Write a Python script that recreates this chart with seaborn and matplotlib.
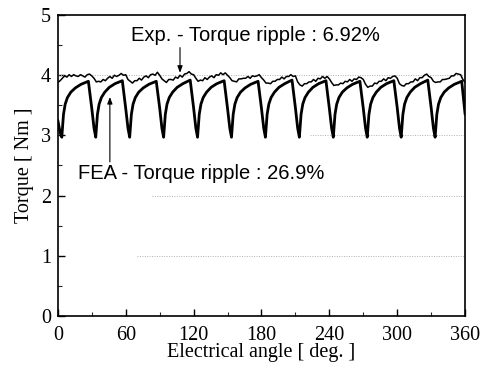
import numpy as np
import matplotlib
matplotlib.use("Agg")
import matplotlib.pyplot as plt
from matplotlib.ticker import MultipleLocator
import seaborn as sns

# ---- FEA torque ----
fea_angle = [
    0, 2, 3.5, 5, 6.5, 8.5, 11.5, 15.5, 20.5, 27,
    30, 32, 33.5, 35, 36.5, 38.5, 41.5, 45.5, 50.5, 57,
    60, 62, 63.5, 65, 66.5, 68.5, 71.5, 75.5, 80.5, 87,
    90, 92, 93.5, 95, 96.5, 98.5, 101.5, 105.5, 110.5, 117,
    120, 122, 123.5, 125, 126.5, 128.5, 131.5, 135.5, 140.5, 147,
    150, 152, 153.5, 155, 156.5, 158.5, 161.5, 165.5, 170.5, 177,
    180, 182, 183.5, 185, 186.5, 188.5, 191.5, 195.5, 200.5, 207,
    210, 212, 213.5, 215, 216.5, 218.5, 221.5, 225.5, 230.5, 237,
    240, 242, 243.5, 245, 246.5, 248.5, 251.5, 255.5, 260.5, 267,
    270, 272, 273.5, 275, 276.5, 278.5, 281.5, 285.5, 290.5, 297,
    300, 302, 303.5, 305, 306.5, 308.5, 311.5, 315.5, 320.5, 327,
    330, 332, 333.5, 335, 336.5, 338.5, 341.5, 345.5, 350.5, 357,
    360,
]
fea_torque = [
    3.25, 3.05, 2.97, 3.35, 3.52, 3.63, 3.72, 3.79, 3.85, 3.90,
    3.45, 3.12, 2.97, 3.35, 3.52, 3.63, 3.72, 3.80, 3.86, 3.91,
    3.45, 3.12, 2.97, 3.35, 3.52, 3.63, 3.72, 3.79, 3.85, 3.90,
    3.46, 3.12, 2.97, 3.35, 3.52, 3.63, 3.72, 3.80, 3.86, 3.92,
    3.46, 3.12, 2.97, 3.35, 3.52, 3.63, 3.72, 3.80, 3.86, 3.91,
    3.45, 3.12, 2.97, 3.35, 3.52, 3.63, 3.72, 3.79, 3.85, 3.90,
    3.45, 3.12, 2.97, 3.35, 3.52, 3.63, 3.72, 3.80, 3.86, 3.92,
    3.46, 3.12, 2.97, 3.35, 3.52, 3.63, 3.72, 3.80, 3.86, 3.91,
    3.45, 3.12, 2.97, 3.35, 3.52, 3.63, 3.72, 3.79, 3.85, 3.90,
    3.45, 3.12, 2.97, 3.35, 3.52, 3.63, 3.72, 3.80, 3.86, 3.91,
    3.46, 3.12, 2.97, 3.35, 3.52, 3.63, 3.72, 3.80, 3.86, 3.92,
    3.46, 3.12, 2.97, 3.35, 3.52, 3.63, 3.72, 3.79, 3.85, 3.90,
    3.35,
]

# ---- Experimental torque, sampled every 2 deg ----
exp_angle = list(range(0, 361, 2))
exp_torque = [
    3.88, 3.91, 3.95, 3.99, 3.97, 4.01, 3.98, 4.01, 3.99, 3.98, 4.01, 3.99, 3.97, 4.01, 4.02,
    3.99, 3.95, 3.89, 3.90, 3.89, 3.93, 3.91, 3.95, 3.98, 3.95, 4.00, 3.98, 4.00, 4.03, 4.00,
    4.01, 3.93, 3.90, 3.87, 3.91, 3.91, 3.95, 3.92, 3.97, 3.99, 3.96, 4.01, 4.02, 4.00, 4.05,
    4.00, 3.94, 3.91, 3.88, 3.93, 3.93, 3.92, 3.97, 3.95, 4.00, 3.97, 4.02, 4.03, 4.06, 4.02,
    4.01, 3.95, 3.90, 3.92, 3.91, 3.96, 3.93, 3.97, 3.99, 3.96, 4.01, 4.00, 4.04, 4.01, 4.04,
    4.00, 3.96, 3.91, 3.90, 3.89, 3.94, 3.94, 3.95, 3.95, 3.98, 3.95, 3.99, 3.98, 3.99, 4.01,
    3.96, 3.92, 3.87, 3.87, 3.86, 3.90, 3.90, 3.93, 3.93, 3.97, 3.94, 3.98, 3.98, 4.01, 3.98,
    3.99, 3.89, 3.84, 3.82, 3.86, 3.86, 3.89, 3.89, 3.93, 3.90, 3.95, 3.94, 3.98, 3.95, 3.98,
    3.94, 3.88, 3.83, 3.84, 3.84, 3.87, 3.86, 3.90, 3.89, 3.93, 3.90, 3.94, 3.93, 3.97, 3.96,
    3.93, 3.85, 3.80, 3.82, 3.82, 3.87, 3.86, 3.90, 3.90, 3.94, 3.91, 3.96, 3.95, 3.98, 3.99,
    3.95, 3.86, 3.83, 3.82, 3.86, 3.86, 3.89, 3.89, 3.94, 3.91, 3.96, 3.96, 4.00, 4.02, 3.98,
    3.96, 3.90, 3.88, 3.89, 3.89, 3.93, 3.93, 3.94, 3.95, 3.99, 3.99, 4.03, 4.02, 4.01, 3.93,
    3.88,
]

x_ticks = [0, 60, 120, 180, 240, 300, 360]
y_ticks = [0, 1, 2, 3, 4, 5]

# faint dotted reference lines (scan remnants in the original)
grid_y = [1, 2, 3, 4]
grid_start = [70, 83, 223, 0]

sns.set_style("ticks")
plt.rcParams["font.family"] = ["Liberation Serif", "DejaVu Serif"]
plt.rcParams["text.color"] = "black"
plt.rcParams["axes.labelcolor"] = "black"

fig = plt.figure(figsize=(4.86, 3.69), dpi=100)
ax = fig.add_axes([0.119, 0.144, 0.838, 0.815])

for gy, gx in zip(grid_y, grid_start):
    ax.hlines(gy, gx, 360, colors="#b0b0b0", linestyles=(0, (1, 1.5)),
              linewidth=0.7, zorder=1)

sns.lineplot(x=exp_angle, y=exp_torque, ax=ax, color="black",
             linewidth=1.1, estimator=None, sort=False, zorder=3)
sns.lineplot(x=fea_angle, y=fea_torque, ax=ax, color="black",
             linewidth=2.0, estimator=None, sort=False, zorder=4)

ax.set_xlim(0, 360)
ax.set_ylim(0, 5)
ax.set_xticks(x_ticks)
ax.set_yticks(y_ticks)
ax.xaxis.set_minor_locator(MultipleLocator(30))
ax.yaxis.set_minor_locator(MultipleLocator(0.5))
ax.tick_params(which="major", direction="in", length=5, width=1.0,
               labelsize=14.5, colors="black")
ax.tick_params(axis="x", which="major", pad=7)
ax.tick_params(axis="y", which="major", pad=5)
ax.tick_params(which="minor", direction="in", length=3, width=0.8)
ax.tick_params(top=False, right=False)
for s in ax.spines.values():
    s.set_linewidth(1.2)
    s.set_color("black")

ax.set_xlabel("Electrical angle [ deg. ]", fontsize=14.5, labelpad=-1)
ax.set_ylabel("Torque [ Nm ]", fontsize=14.5, labelpad=5)

sans = ["Liberation Sans", "DejaVu Sans"]
ax.text(65, 4.66, "Exp. - Torque ripple : 6.92%", fontsize=14.5,
        family=sans, va="center", ha="left")
ax.text(17.5, 2.37, "FEA - Torque ripple : 26.9%", fontsize=14.5,
        family=sans, va="center", ha="left")
arrow = dict(arrowstyle="-|>,head_length=0.4,head_width=0.15",
             color="black", lw=0.8, shrinkA=0, shrinkB=0)
ax.annotate("", xy=(108, 4.04), xytext=(108, 4.46), arrowprops=arrow)
ax.annotate("", xy=(46, 3.64), xytext=(46, 2.56), arrowprops=arrow)

plt.savefig("out.png", dpi=100)
